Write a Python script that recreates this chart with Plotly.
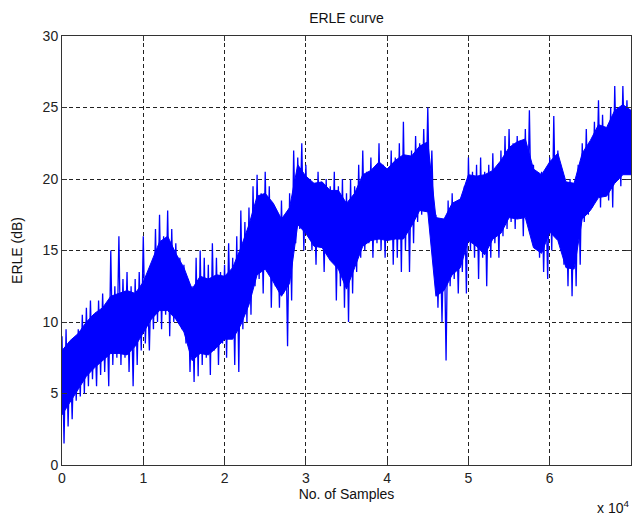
import plotly.graph_objects as go

# Sample positions (every 500 samples) and readings of the ERLE trace (dB)
sample_step = 500
erle_peak = [
    9.0, 9.5, 8.5, 8.8, 9.5, 10.5, 11.0, 11.5, 10.5, 11.5,
    12.0, 11.0, 15.0, 12.5, 16.0, 13.0, 13.5, 12.5, 13.0, 13.5,
    16.0, 12.5, 14.0, 16.5, 17.5, 16.0, 17.8, 16.5, 15.5, 14.5,
    14.0, 13.0, 12.5, 14.5, 15.0, 14.5, 14.0, 15.5, 14.5, 13.5,
    14.0, 15.5, 14.5, 16.0, 17.8, 17.0, 18.0, 19.5, 20.3, 19.0,
    20.5, 19.5, 18.0, 17.5, 18.5, 17.5, 19.0, 22.0, 21.5, 22.5,
    21.0, 20.0, 19.5, 20.5, 19.0, 20.0, 19.5, 20.5, 19.5, 20.0,
    19.0, 20.0, 19.5, 21.0, 22.0, 20.5, 21.5, 20.5, 22.5, 21.0,
    20.5, 22.0, 21.5, 22.5, 24.0, 21.5, 22.0, 23.0, 22.5, 23.5,
    25.0, 22.0, 17.5, 16.5, 17.0, 18.5, 19.0, 18.0, 18.5, 19.5,
    21.5, 20.5, 21.0, 21.5, 20.5, 21.0, 21.8, 20.5, 22.0, 23.0,
    23.5, 22.5, 23.0, 22.5, 23.5, 24.8, 21.0, 20.0, 20.5, 19.5,
    21.5, 24.4, 22.0, 20.5, 19.5, 20.0, 19.5, 21.0, 22.5, 23.5,
    22.5, 24.0, 25.5, 24.5, 23.5, 25.0, 26.5, 25.0, 26.5, 25.5,
    24.0,
]
erle_trough = [
    1.5, 2.7, 3.2, 4.5, 4.8, 5.0, 5.5, 6.0, 5.5, 6.3,
    6.5, 5.5, 7.0, 7.5, 7.0, 7.5, 6.5, 5.5, 7.0, 8.0,
    8.5, 8.0, 9.5, 10.0, 9.5, 10.5, 9.0, 10.0, 10.5, 9.5,
    8.5, 6.5, 5.8, 6.2, 7.0, 7.5, 6.3, 8.0, 7.0, 8.5,
    7.5, 9.0, 7.0, 6.5, 9.5, 10.0, 10.5, 12.5, 13.0, 12.0,
    13.5, 11.0, 12.5, 11.0, 12.0, 8.3, 11.5, 15.5, 16.5, 15.0,
    16.0, 15.0, 14.0, 15.5, 13.5, 15.0, 14.5, 11.5, 12.5, 11.0,
    10.0, 12.0, 13.5, 14.5, 15.0, 15.5, 14.5, 15.5, 15.0, 14.5,
    16.0, 14.0, 14.5, 13.5, 15.0, 13.5, 15.5, 17.0, 17.5, 18.0,
    17.5, 16.5, 11.0, 10.0, 7.3, 12.5, 13.0, 12.0, 13.5, 12.0,
    15.0, 14.5, 13.0, 14.5, 12.5, 14.5, 15.5, 14.5, 16.0, 16.5,
    17.0, 16.5, 17.5, 16.0, 17.0, 16.5, 15.5, 14.5, 13.5, 13.0,
    15.0, 16.5, 16.0, 14.0, 12.5, 11.8, 12.5, 14.0, 17.0, 17.5,
    18.0, 18.5, 18.0, 19.0, 18.5, 18.0, 20.0, 19.5, 21.0, 20.5,
    22.0,
]
# Dense core of the trace, read every 1000 samples (dB)
core_step = 1000
core_upper = [
    8.0, 8.7, 9.2, 10.0, 10.6, 11.0, 11.8, 12.0, 12.2, 12.0,
    12.8, 14.2, 15.6, 16.0, 14.8, 13.8, 12.3, 13.2, 13.0, 13.3,
    13.2, 13.8, 15.2, 16.8, 18.8, 19.0, 18.3, 17.2, 18.0, 21.0,
    20.2, 19.7, 19.8, 19.2, 19.2, 18.3, 19.0, 20.3, 20.6, 21.2,
    20.7, 21.3, 21.7, 21.6, 22.3, 22.6, 17.3, 17.2, 18.3, 18.6,
    20.3, 20.2, 20.3, 20.6, 21.3, 22.2, 22.6, 22.8, 20.7, 20.3,
    21.2, 21.8, 19.8, 19.7, 21.8, 22.7, 23.8, 23.6, 24.8, 25.2,
    24.8,
]
core_lower = [
    3.5, 4.4, 5.3, 6.2, 6.8, 7.3, 7.8, 7.8, 7.7, 8.3,
    9.3, 10.2, 10.8, 10.8, 10.2, 9.3, 7.3, 7.8, 7.7, 8.2,
    8.8, 8.8, 9.8, 11.2, 13.3, 13.7, 12.8, 11.8, 12.7, 16.8,
    16.2, 15.3, 15.2, 14.3, 13.7, 12.3, 13.8, 15.3, 15.7, 15.8,
    15.7, 15.8, 15.8, 16.7, 17.8, 17.7, 11.8, 12.2, 13.3, 13.8,
    15.7, 15.3, 14.7, 15.8, 16.2, 17.3, 17.2, 17.3, 15.2, 14.8,
    16.3, 15.7, 13.8, 13.7, 17.2, 17.8, 18.7, 18.8, 19.7, 20.3,
    20.3,
]
x_tick_vals = [0, 10000, 20000, 30000, 40000, 50000, 60000, 70000]
x_tick_text = ["0", "1", "2", "3", "4", "5", "6", "7"]
y_tick_vals = [0, 5, 10, 15, 20, 25, 30]

xs, ys = [], []
for k in range(len(erle_peak)):
    xs.append(k * sample_step)
    ys.append(erle_peak[k])
    if k * sample_step + sample_step // 2 <= 70000:
        xs.append(k * sample_step + sample_step // 2)
        ys.append(erle_trough[k])

core_x = [k * core_step for k in range(len(core_upper))]

blue = "#0000FF"
fig = go.Figure()
fig.add_trace(go.Scatter(x=core_x, y=core_lower, mode="lines",
                         line=dict(color=blue, width=1), hoverinfo="skip"))
fig.add_trace(go.Scatter(x=core_x, y=core_upper, mode="lines", fill="tonexty",
                         fillcolor=blue, line=dict(color=blue, width=1), hoverinfo="skip"))
fig.add_trace(go.Scatter(x=xs, y=ys, mode="lines", line=dict(color=blue, width=1.3)))

font = "Liberation Sans, Arial, sans-serif"
axis_common = dict(showline=True, linecolor="#333", linewidth=1, mirror="ticks",
                   ticks="inside", ticklen=5, tickcolor="#333",
                   showgrid=True, gridcolor="#222", gridwidth=1, griddash="4px,3px",
                   zeroline=False, tickfont=dict(family=font, size=14, color="#222"))

fig.update_layout(
    width=634, height=518,
    margin=dict(l=62, r=3, t=36, b=53),
    paper_bgcolor="white", plot_bgcolor="white",
    showlegend=False,
    title=dict(text="ERLE curve", x=0.5465, xanchor="center", y=0.965, yanchor="middle",
               font=dict(family=font, size=14, color="#111")),
    xaxis=dict(range=[0, 70000], tickvals=x_tick_vals, ticktext=x_tick_text,
               title=dict(text="No. of Samples", font=dict(family=font, size=14, color="#111"),
                          standoff=4),
               **axis_common),
    yaxis=dict(range=[0, 30], tickvals=y_tick_vals,
               title=dict(text="ERLE (dB)", font=dict(family=font, size=14, color="#111"),
                          standoff=16),
               **axis_common),
    annotations=[dict(text="x 10<sup>4</sup>", xref="paper", yref="paper", x=1.0, y=-0.072,
                      xanchor="right", yanchor="top", showarrow=False,
                      font=dict(family=font, size=14, color="#111"))],
)

fig.write_html("out.html")
